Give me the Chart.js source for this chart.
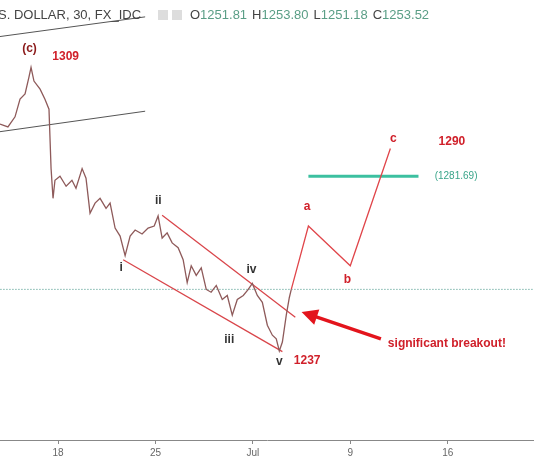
<!DOCTYPE html>
<html>
<head>
<meta charset="utf-8">
<script src="https://cdn.jsdelivr.net/npm/chart.js@4"></script>
<style>
  body { margin: 0; background: #fff; }
  #wrap { position: relative; width: 534px; height: 462px; }
</style>
</head>
<body>
<div id="wrap"><canvas id="priceChart"></canvas></div>
<script>
// x = trading days from Jun 18, y = price
var priceDays = [-4.17,-3.6,-3.09,-2.73,-2.37,-2.09,-1.94,-1.73,-1.29,-0.94,-0.65,-0.5,-0.36,-0.22,0.14,0.58,1.0,1.29,1.73,2.01,2.3,2.66,3.02,3.45,3.74,4.1,4.46,4.82,5.18,5.54,6.04,6.47,6.91,7.19,7.48,7.84,8.2,8.63,8.99,9.28,9.57,9.93,10.29,10.65,11.0,11.37,11.8,12.16,12.52,12.88,13.31,13.67,13.96,14.32,14.68,15.04,15.4,15.68,15.9,16.12,16.4,16.62,16.76];
var priceValues = [1294.7,1294.0,1296.5,1300.9,1302.2,1306.4,1308.8,1305.4,1303.4,1300.9,1298.4,1283.6,1276.2,1280.7,1281.7,1279.2,1280.7,1278.7,1283.6,1281.2,1272.5,1275.0,1276.2,1273.7,1275.0,1268.8,1266.8,1261.9,1266.8,1268.3,1267.3,1268.8,1269.3,1271.8,1266.3,1267.6,1265.1,1263.9,1260.9,1255.2,1259.4,1257.0,1258.9,1253.5,1252.8,1254.5,1251.0,1252.0,1247.1,1251.0,1252.0,1253.5,1255.0,1252.0,1250.3,1244.6,1242.1,1241.2,1238.2,1240.4,1247.1,1251.5,1253.5];

var projDays = [16.76, 17.99, 21.0, 23.88];
var projValues = [1253.5, 1269.3, 1259.4, 1288.6];

var channelUpper = [[7.48, 1272.0], [17.05, 1246.6]];
var channelLower = [[4.68, 1260.9], [16.12, 1238.0]];
var grayUpper = [[-4.17, 1316.5], [6.26, 1321.4]];
var grayLower = [[-4.17, 1292.8], [6.26, 1297.9]];
var targetLine = [[17.99, 1281.69], [25.9, 1281.69]];
var lastPrice = 1253.52;

var tickDays = [0, 7, 14, 21, 28];
var tickLabels = ['18', '25', 'Jul', '9', '16'];

// [day, price, text, colour, font, align]
var labels = [
  [-2.05, 1313.5, '(c)', '#8b1a1a', 'bold 12px Arial', 'center'],
  [0.55, 1311.5, '1309', '#d0202a', 'bold 12px Arial', 'center'],
  [7.2, 1275.5, 'ii', '#333', 'bold 12px Arial', 'center'],
  [4.53, 1259.0, 'i', '#333', 'bold 12px Arial', 'center'],
  [13.9, 1258.5, 'iv', '#333', 'bold 12px Arial', 'center'],
  [12.3, 1241.0, 'iii', '#333', 'bold 12px Arial', 'center'],
  [15.9, 1235.5, 'v', '#333', 'bold 12px Arial', 'center'],
  [17.9, 1235.8, '1237', '#d0202a', 'bold 12px Arial', 'center'],
  [17.9, 1274.0, 'a', '#d0202a', 'bold 12px Arial', 'center'],
  [20.8, 1256.0, 'b', '#d0202a', 'bold 12px Arial', 'center'],
  [24.1, 1291.0, 'c', '#d0202a', 'bold 12px Arial', 'center'],
  [28.3, 1290.2, '1290', '#d0202a', 'bold 12px Arial', 'center'],
  [28.6, 1281.69, '(1281.69)', '#3aa58a', '10px Arial', 'center'],
  [23.7, 1240.0, 'significant breakout!', '#d0202a', 'bold 12px Arial', 'left']
];
var arrowFrom = [23.2, 1241.2];
var arrowTo = [17.5, 1247.9];

function pts(days, vals) {
  return days.map(function (d, i) { return { x: d, y: vals[i] }; });
}
function seg(pairs) {
  return pairs.map(function (p) { return { x: p[0], y: p[1] }; });
}

var annotate = {
  id: 'annotate',
  afterDatasetsDraw: function (chart) {
    var c = chart.ctx, xs = chart.scales.x, ys = chart.scales.y;
    c.save();
    // arrow
    var x1 = xs.getPixelForValue(arrowFrom[0]), y1 = ys.getPixelForValue(arrowFrom[1]);
    var x2 = xs.getPixelForValue(arrowTo[0]), y2 = ys.getPixelForValue(arrowTo[1]);
    var ang = Math.atan2(y2 - y1, x2 - x1);
    c.strokeStyle = '#e3141c'; c.fillStyle = '#e3141c'; c.lineWidth = 3.5;
    c.beginPath(); c.moveTo(x1, y1);
    c.lineTo(x2 - 10 * Math.cos(ang), y2 - 10 * Math.sin(ang)); c.stroke();
    c.beginPath(); c.moveTo(x2, y2);
    c.lineTo(x2 - 16 * Math.cos(ang) + 8 * Math.sin(ang), y2 - 16 * Math.sin(ang) - 8 * Math.cos(ang));
    c.lineTo(x2 - 16 * Math.cos(ang) - 8 * Math.sin(ang), y2 - 16 * Math.sin(ang) + 8 * Math.cos(ang));
    c.closePath(); c.fill();
    // labels
    c.textBaseline = 'middle';
    labels.forEach(function (l) {
      c.font = l[4]; c.fillStyle = l[3]; c.textAlign = l[5];
      c.fillText(l[2], xs.getPixelForValue(l[0]), ys.getPixelForValue(l[1]));
    });
    // header
    c.textAlign = 'left'; c.font = '13px Arial';
    c.fillStyle = '#444';
    c.fillText('S. DOLLAR, 30, FX_IDC', -2, 15);
    c.fillStyle = '#ddd';
    c.fillRect(158, 10, 10, 10); c.fillRect(172, 10, 10, 10);
    var ohlc = [['O', '1251.81'], ['H', '1253.80'], ['L', '1251.18'], ['C', '1253.52']];
    var px = 190;
    ohlc.forEach(function (o) {
      c.fillStyle = '#444'; c.fillText(o[0], px, 15); px += c.measureText(o[0]).width;
      c.fillStyle = '#5a9e86'; c.fillText(o[1], px, 15); px += c.measureText(o[1]).width + 5;
    });
    c.restore();
  }
};

new Chart(document.getElementById('priceChart').getContext('2d'), {
  type: 'line',
  data: {
    datasets: [
      { data: pts(priceDays, priceValues), borderColor: '#8e5a5a', borderWidth: 1.3 },
      { data: pts(projDays, projValues), borderColor: '#e0454a', borderWidth: 1.3 },
      { data: seg(channelUpper), borderColor: '#d9454a', borderWidth: 1.3 },
      { data: seg(channelLower), borderColor: '#d9454a', borderWidth: 1.3 },
      { data: seg(grayUpper), borderColor: '#555', borderWidth: 1 },
      { data: seg(grayLower), borderColor: '#555', borderWidth: 1 },
      { data: seg(targetLine), borderColor: '#3cc0a0', borderWidth: 3 },
      { data: [{ x: -5, y: lastPrice }, { x: 40, y: lastPrice }], borderColor: '#3a8f80', borderWidth: 1, borderDash: [1, 2] }
    ]
  },
  options: {
    responsive: true,
    maintainAspectRatio: false,
    animation: false,
    layout: { padding: 0 },
    elements: { point: { radius: 0 }, line: { tension: 0 } },
    plugins: { legend: { display: false }, tooltip: { enabled: false } },
    scales: {
      x: {
        type: 'linear', min: -4.17, max: 34.2,
        afterBuildTicks: function (axis) { axis.ticks = tickDays.map(function (v) { return { value: v }; }); },
        ticks: {
          color: '#666', font: { size: 10, family: 'Arial' }, maxRotation: 0, autoSkip: false,
          callback: function (v) { var i = tickDays.indexOf(v); return i >= 0 ? tickLabels[i] : ''; }
        },
        grid: { drawOnChartArea: false, tickLength: 4, color: '#888' },
        border: { color: '#888' }
      },
      y: { type: 'linear', min: 1216, max: 1325.6, display: false }
    }
  },
  plugins: [annotate]
});
</script>
</body>
</html>
